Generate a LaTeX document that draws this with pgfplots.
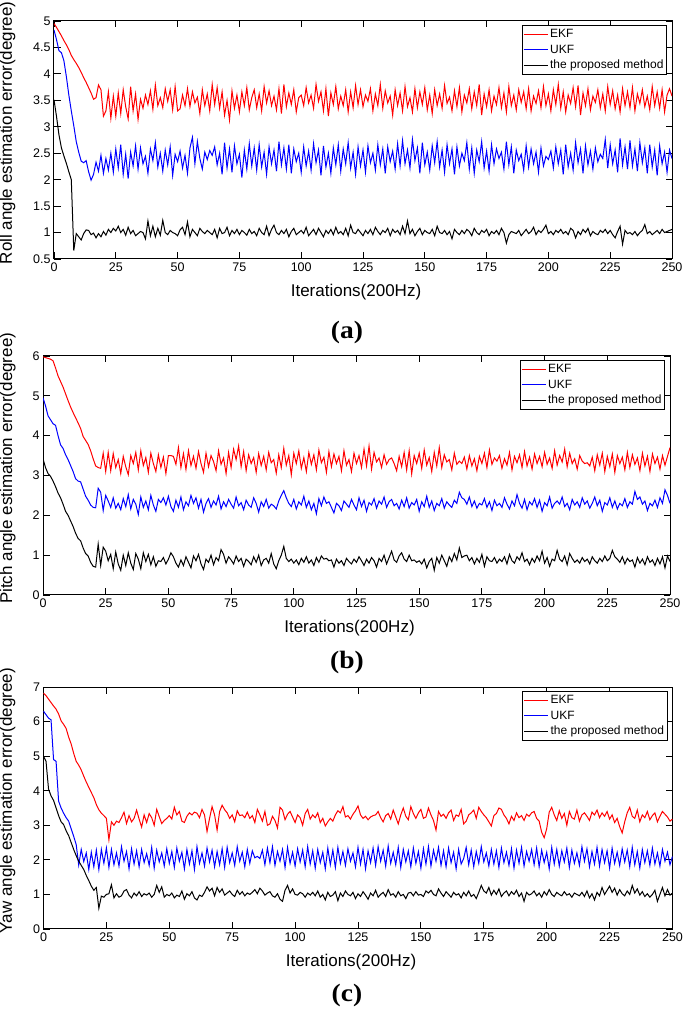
\documentclass[border=0pt]{standalone}
\usepackage{fontspec}
\setmainfont{Liberation Sans}
\newfontfamily\capfont{Liberation Serif}[FakeStretch=1.1]
\usepackage{pgfplots}
\pgfplotsset{compat=1.18}

\pgfplotsset{
  errax/.style={
    scale only axis, anchor=south west,
    xmin=0, xmax=250, xtick={0,25,...,250},
    tick align=inside, major tick length=6.5pt,
    axis line style={line width=1pt},
    every tick/.style={black, line width=0.9pt},
    ticklabel style={font=\fontsize{12.5}{14}\selectfont},
    /pgf/number format/assume math mode=true,
    xlabel={Iterations(200Hz)},
    label style={font=\fontsize{17}{20}\selectfont},
    xlabel style={at={(axis description cs:0.5,0)}, anchor=center, yshift=-33pt, xshift=-7pt},
    legend style={at={(rel axis cs:1,1)}, anchor=north east, xshift=-5pt, yshift=-4pt,
      font=\fontsize{12}{13}\selectfont, draw=black, line width=1pt,
      inner xsep=1pt, inner ysep=2pt, row sep=1.5pt, cells={anchor=west}},
    legend image code/.code={\draw[#1] (0pt,0pt) -- (24pt,0pt);},
  },
  ekf/.style={red, line width=1pt},
  ukf/.style={blue, line width=1pt},
  prop/.style={black, line width=1pt},
  table/y1/.style={x expr=\coordindex, y index=0, header=false, row sep=\\},
}

\begin{document}
\begin{tikzpicture}
\path[use as bounding box] (0pt,0pt) rectangle (685pt,1012pt);

% (a) roll
\begin{axis}[errax, at={(54pt,753pt)}, width=618pt, height=238pt,
  ymin=0.5, ymax=5, ytick={0.5,1,1.5,2,2.5,3,3.5,4,4.5,5},
  ylabel={Roll angle estimation error(degree)},
  ylabel style={at={(axis description cs:-0.0566,0.53)}, anchor=south}]
\addplot[ekf] table[y1] {
4.95\\4.88\\4.80\\4.72\\4.63\\4.55\\4.46\\4.35\\4.27\\4.20\\
4.12\\4.03\\3.93\\3.84\\3.74\\3.64\\3.52\\3.55\\3.79\\3.70\\
3.20\\3.30\\3.66\\3.16\\
3.58\\3.20\\3.64\\3.25\\3.70\\3.38\\3.15\\3.76\\3.30\\3.62\\
3.14\\3.52\\3.35\\3.60\\3.42\\3.68\\3.33\\3.79\\3.40\\3.55\\
3.36\\3.72\\3.48\\3.70\\3.32\\3.76\\3.30\\3.34\\3.60\\3.40\\
3.72\\3.38\\3.66\\3.45\\3.56\\3.25\\3.70\\3.40\\3.62\\3.30\\
3.80\\3.42\\3.74\\3.35\\3.66\\3.22\\3.50\\3.13\\3.68\\3.35\\
3.60\\3.28\\3.66\\3.40\\3.74\\3.32\\3.55\\3.70\\3.36\\3.62\\
3.30\\3.76\\3.45\\3.68\\3.40\\3.58\\3.32\\3.72\\3.25\\3.80\\
3.38\\3.64\\3.42\\3.70\\3.28\\3.55\\3.60\\3.40\\3.74\\3.45\\
3.60\\3.35\\3.80\\3.48\\3.66\\3.30\\3.72\\3.20\\3.64\\3.42\\
3.76\\3.34\\3.58\\3.40\\3.70\\3.28\\3.66\\3.36\\3.78\\3.42\\
3.70\\3.38\\3.60\\3.48\\3.72\\3.30\\3.62\\3.40\\3.80\\3.35\\
3.68\\3.45\\3.58\\3.22\\3.70\\3.40\\3.64\\3.30\\3.76\\3.38\\
3.55\\3.28\\3.72\\3.36\\3.66\\3.42\\3.74\\3.32\\3.60\\3.25\\
3.70\\3.40\\3.62\\3.35\\3.78\\3.44\\3.56\\3.30\\3.68\\3.38\\
3.74\\3.28\\3.60\\3.45\\3.72\\3.34\\3.66\\3.40\\3.80\\3.22\\
3.62\\3.38\\3.70\\3.30\\3.58\\3.42\\3.74\\3.36\\3.64\\3.28\\
3.76\\3.40\\3.60\\3.32\\3.70\\3.46\\3.66\\3.34\\3.72\\3.30\\
3.58\\3.44\\3.68\\3.36\\3.76\\3.40\\3.62\\3.30\\3.70\\3.42\\
3.80\\3.35\\3.66\\3.28\\3.60\\3.44\\3.74\\3.38\\3.78\\3.22\\
3.64\\3.40\\3.72\\3.32\\3.58\\3.46\\3.70\\3.36\\3.62\\3.30\\
3.76\\3.42\\3.68\\3.34\\3.60\\3.28\\3.72\\3.40\\3.66\\3.36\\
3.74\\3.30\\3.62\\3.44\\3.70\\3.38\\3.58\\3.32\\3.76\\3.40\\
3.66\\3.35\\3.70\\3.28\\3.60\\3.72\\3.58\\
};
\addplot[ukf] table[y1] {
4.83\\4.65\\4.44\\4.40\\4.25\\3.95\\3.60\\3.30\\3.02\\2.72\\
2.52\\2.35\\2.32\\2.36\\2.15\\1.99\\2.10\\2.33\\2.16\\2.46\\
2.12\\2.40\\2.18\\2.50\\
2.14\\2.58\\2.22\\2.66\\2.10\\2.48\\2.02\\2.52\\2.26\\2.64\\
2.20\\2.60\\2.30\\2.44\\2.12\\2.58\\2.36\\2.70\\2.24\\2.50\\
2.16\\2.56\\2.28\\2.62\\2.08\\2.48\\2.34\\2.54\\2.22\\2.46\\
2.12\\2.60\\2.80\\2.30\\2.72\\2.40\\2.20\\2.52\\2.38\\2.55\\
2.46\\2.62\\2.28\\2.50\\2.10\\2.70\\2.22\\2.58\\2.14\\2.64\\
2.30\\2.48\\2.04\\2.56\\2.20\\2.68\\2.26\\2.60\\2.18\\2.66\\
2.24\\2.52\\2.10\\2.62\\2.30\\2.56\\2.16\\2.72\\2.28\\2.60\\
2.20\\2.66\\2.12\\2.58\\2.34\\2.50\\2.14\\2.62\\2.26\\2.54\\
2.18\\2.68\\2.32\\2.56\\2.08\\2.64\\2.24\\2.50\\2.12\\2.60\\
2.28\\2.66\\2.16\\2.58\\2.30\\2.70\\2.22\\2.52\\2.10\\2.62\\
2.26\\2.56\\2.14\\2.64\\2.32\\2.50\\2.18\\2.66\\2.28\\2.58\\
2.12\\2.62\\2.34\\2.54\\2.20\\2.68\\2.26\\2.74\\2.30\\2.56\\
2.22\\2.76\\2.36\\2.60\\2.12\\2.70\\2.28\\2.52\\2.18\\2.64\\
2.32\\2.72\\2.24\\2.56\\2.14\\2.66\\2.30\\2.58\\2.10\\2.62\\
2.26\\2.50\\2.36\\2.70\\2.20\\2.60\\2.12\\2.56\\2.34\\2.72\\
2.22\\2.54\\2.16\\2.66\\2.30\\2.58\\2.40\\2.52\\2.20\\2.72\\
2.28\\2.62\\2.12\\2.56\\2.36\\2.48\\2.18\\2.64\\2.24\\2.58\\
2.30\\2.52\\2.14\\2.60\\2.26\\2.44\\2.38\\2.54\\2.22\\2.62\\
2.30\\2.56\\2.10\\2.66\\2.24\\2.50\\2.18\\2.70\\2.32\\2.58\\
2.12\\2.64\\2.28\\2.54\\2.20\\2.60\\2.34\\2.48\\2.40\\2.76\\
2.22\\2.66\\2.30\\2.56\\2.14\\2.78\\2.28\\2.62\\2.20\\2.74\\
2.26\\2.58\\2.16\\2.70\\2.32\\2.60\\2.12\\2.66\\2.24\\2.56\\
2.08\\2.64\\2.30\\2.52\\2.14\\2.56\\2.40\\
};
\addplot[prop] table[y1] {
3.51\\3.20\\2.85\\2.60\\2.45\\2.31\\2.15\\2.00\\0.66\\0.98\\
0.92\\0.86\\0.98\\1.05\\1.04\\0.96\\0.99\\0.90\\0.98\\0.92\\
1.02\\0.95\\1.06\\1.00\\
1.08\\1.03\\1.12\\1.00\\1.06\\0.95\\1.10\\0.98\\1.04\\0.94\\
0.98\\1.02\\1.00\\0.88\\1.22\\0.94\\1.12\\0.92\\1.08\\0.95\\
1.23\\1.00\\0.96\\1.04\\1.00\\0.98\\0.94\\1.05\\1.10\\0.96\\
1.20\\0.92\\1.06\\1.00\\0.94\\1.08\\1.02\\0.98\\1.04\\1.00\\
0.96\\1.06\\0.90\\1.08\\0.98\\1.00\\1.10\\0.94\\1.04\\0.98\\
1.06\\0.96\\1.04\\1.00\\0.95\\1.06\\0.98\\1.02\\0.94\\1.08\\
1.00\\0.96\\1.12\\0.94\\1.06\\1.14\\1.00\\0.96\\1.04\\0.98\\
1.06\\0.92\\1.02\\1.08\\0.96\\1.00\\1.04\\0.98\\1.10\\0.94\\
1.00\\1.06\\0.96\\1.08\\1.00\\0.92\\1.04\\0.98\\1.06\\0.96\\
1.10\\0.98\\1.02\\0.96\\1.08\\0.94\\1.14\\1.00\\0.98\\1.06\\
1.00\\0.94\\1.04\\0.98\\1.06\\0.96\\1.10\\1.02\\0.96\\1.04\\
1.00\\1.08\\0.94\\1.06\\1.00\\1.04\\0.96\\1.12\\0.98\\1.22\\
0.98\\1.06\\0.94\\1.02\\1.08\\0.96\\1.04\\1.00\\0.98\\1.06\\
0.94\\1.12\\1.00\\0.98\\1.04\\0.96\\1.02\\0.88\\1.06\\1.00\\
0.96\\1.04\\0.98\\1.06\\1.02\\0.94\\1.08\\1.00\\0.96\\1.04\\
1.00\\1.06\\0.94\\1.02\\0.98\\1.04\\0.96\\1.08\\1.00\\0.80\\
0.96\\1.02\\1.00\\0.98\\1.04\\0.94\\1.00\\1.06\\0.98\\1.02\\
1.10\\0.96\\1.04\\1.00\\1.06\\1.14\\0.98\\1.02\\0.96\\1.04\\
1.00\\1.06\\0.98\\1.02\\0.96\\1.08\\1.04\\0.90\\1.02\\0.96\\
1.06\\1.00\\1.08\\0.94\\1.02\\0.98\\0.96\\1.04\\1.00\\1.06\\
0.98\\1.04\\0.96\\0.90\\1.02\\1.12\\0.78\\1.04\\0.98\\1.00\\
0.96\\1.02\\0.94\\1.00\\1.04\\1.15\\0.98\\1.02\\0.96\\1.00\\
1.04\\0.98\\1.06\\1.00\\1.02\\1.04\\1.06\\
};
\legend{EKF,UKF,the proposed method}
\end{axis}
\node[font=\capfont\bfseries\fontsize{25}{28}\selectfont] at (347pt,680pt) {(a)};

% (b) pitch
\begin{axis}[errax, at={(43pt,417pt)}, width=627pt, height=239pt,
  ymin=0, ymax=6, ytick={0,1,2,3,4,5,6},
  ylabel={Pitch angle estimation error(degree)},
  ylabel style={at={(axis description cs:-0.038,0.53)}, anchor=south}]
\addplot[ekf] table[y1] {
5.98\\5.96\\5.94\\5.92\\5.88\\5.70\\5.50\\5.36\\5.22\\5.05\\
4.88\\4.72\\4.58\\4.45\\4.32\\4.18\\3.98\\3.88\\3.78\\3.62\\
3.42\\3.24\\3.20\\3.18\\3.56\\
3.10\\3.58\\3.12\\3.55\\3.20\\3.40\\3.05\\3.48\\3.22\\3.02\\
3.50\\3.30\\3.58\\3.14\\3.62\\3.25\\3.45\\3.08\\3.56\\3.30\\
3.10\\3.52\\3.20\\3.46\\3.05\\3.50\\3.50\\3.48\\3.28\\3.70\\
3.20\\3.55\\3.15\\3.62\\3.25\\3.48\\3.18\\3.60\\3.30\\3.08\\
3.56\\3.22\\3.50\\3.35\\3.12\\3.62\\3.28\\3.44\\3.05\\3.58\\
3.20\\3.66\\3.40\\3.74\\3.22\\3.60\\3.12\\3.52\\3.30\\3.45\\
3.08\\3.55\\3.25\\3.48\\3.14\\3.58\\3.32\\3.40\\3.06\\3.52\\
3.20\\3.68\\3.26\\3.50\\3.02\\3.56\\3.30\\3.62\\3.18\\3.45\\
3.10\\3.58\\3.28\\3.52\\3.14\\3.64\\3.32\\3.46\\3.08\\3.60\\
3.22\\3.54\\3.30\\3.48\\3.12\\3.62\\3.26\\3.40\\3.10\\3.56\\
3.30\\3.50\\3.20\\3.66\\3.24\\3.74\\3.16\\3.58\\3.34\\3.44\\
3.20\\3.52\\3.28\\3.40\\3.44\\3.30\\3.12\\3.48\\3.22\\3.58\\
3.14\\3.62\\3.04\\3.50\\3.30\\3.56\\3.18\\3.64\\3.26\\3.45\\
3.10\\3.58\\3.24\\3.70\\3.20\\3.52\\3.34\\3.40\\3.14\\3.56\\
3.28\\3.36\\3.30\\3.46\\3.16\\3.50\\3.24\\3.42\\3.12\\3.48\\
3.30\\3.56\\3.20\\3.64\\3.28\\3.44\\3.36\\3.50\\3.18\\3.42\\
3.26\\3.58\\3.14\\3.48\\3.32\\3.52\\3.20\\3.60\\3.24\\3.46\\
3.16\\3.54\\3.30\\3.48\\3.22\\3.58\\3.28\\3.44\\3.18\\3.62\\
3.26\\3.50\\3.34\\3.66\\3.22\\3.56\\3.30\\3.42\\3.16\\3.50\\
3.36\\3.30\\3.32\\3.24\\3.46\\3.12\\3.52\\3.26\\3.56\\3.10\\
3.48\\3.22\\3.54\\3.08\\3.50\\3.30\\3.46\\3.14\\3.58\\3.20\\
3.52\\3.28\\3.44\\3.12\\3.56\\3.24\\3.48\\3.10\\3.54\\3.30\\
3.46\\3.16\\3.50\\3.26\\3.48\\3.70\\
};
\addplot[ukf] table[y1] {
4.95\\4.75\\4.50\\4.40\\4.30\\4.26\\4.00\\3.77\\3.68\\3.52\\
3.40\\3.25\\3.10\\2.92\\2.86\\2.84\\2.66\\2.48\\2.38\\2.26\\
2.20\\2.19\\2.68\\2.58\\2.12\\
2.50\\2.36\\2.20\\2.44\\2.18\\2.30\\2.14\\2.42\\2.22\\2.52\\
2.16\\2.40\\2.28\\2.02\\2.46\\2.20\\2.36\\2.14\\2.50\\2.26\\
2.10\\2.40\\2.32\\2.44\\2.26\\2.48\\2.22\\2.10\\2.38\\2.20\\
2.46\\2.14\\2.34\\2.24\\2.50\\2.30\\2.44\\2.18\\2.40\\2.08\\
2.30\\2.42\\2.20\\2.36\\2.26\\2.48\\2.16\\2.34\\2.22\\2.40\\
2.28\\2.18\\2.46\\2.24\\2.32\\2.14\\2.38\\2.26\\2.20\\2.44\\
2.30\\2.08\\2.34\\2.22\\2.40\\2.18\\2.28\\2.24\\2.16\\2.36\\
2.50\\2.62\\2.44\\2.30\\2.22\\2.40\\2.16\\2.34\\2.26\\2.48\\
2.20\\2.36\\2.14\\2.30\\2.04\\2.42\\2.24\\2.46\\2.30\\2.34\\
2.20\\2.06\\2.30\\2.24\\2.12\\2.36\\2.28\\2.20\\2.40\\2.26\\
2.14\\2.44\\2.22\\2.38\\2.10\\2.32\\2.26\\2.42\\2.18\\2.36\\
2.28\\2.46\\2.20\\2.34\\2.40\\2.24\\2.30\\2.16\\2.38\\2.22\\
2.44\\2.18\\2.32\\2.26\\2.40\\2.10\\2.34\\2.22\\2.48\\2.20\\
2.36\\2.12\\2.30\\2.24\\2.42\\2.18\\2.34\\2.26\\2.20\\2.38\\
2.30\\2.58\\2.44\\2.40\\2.28\\2.46\\2.22\\2.36\\2.18\\2.30\\
2.26\\2.42\\2.20\\2.34\\2.12\\2.38\\2.24\\2.30\\2.20\\2.44\\
2.28\\2.16\\2.36\\2.24\\2.52\\2.30\\2.18\\2.40\\2.14\\2.34\\
2.26\\2.42\\2.20\\2.38\\2.10\\2.32\\2.24\\2.46\\2.18\\2.30\\
2.36\\2.28\\2.46\\2.22\\2.30\\2.14\\2.40\\2.26\\2.34\\2.20\\
2.44\\2.28\\2.36\\2.18\\2.30\\2.46\\2.24\\2.38\\2.10\\2.32\\
2.26\\2.44\\2.20\\2.36\\2.16\\2.30\\2.24\\2.42\\2.20\\2.34\\
2.28\\2.60\\2.40\\2.46\\2.28\\2.36\\2.12\\2.30\\2.24\\2.38\\
2.20\\2.44\\2.30\\2.64\\2.50\\2.30\\
};
\addplot[prop] table[y1] {
3.42\\3.20\\3.05\\2.98\\2.86\\2.72\\2.56\\2.44\\2.28\\2.10\\
2.00\\1.86\\1.72\\1.55\\1.42\\1.36\\1.18\\1.04\\0.98\\0.82\\
0.72\\0.70\\1.28\\0.74\\1.20\\
1.10\\0.86\\1.02\\0.66\\1.08\\0.78\\0.62\\1.00\\0.74\\1.06\\
0.80\\0.64\\1.04\\0.90\\0.66\\1.06\\0.84\\1.02\\0.76\\0.96\\
0.72\\0.86\\0.84\\0.94\\0.78\\0.90\\1.06\\0.96\\0.80\\0.70\\
0.88\\0.74\\0.96\\0.82\\0.68\\0.98\\0.86\\1.02\\0.78\\0.64\\
0.90\\0.82\\1.00\\0.76\\0.94\\0.86\\1.14\\1.02\\0.80\\0.96\\
0.88\\0.78\\0.98\\0.84\\0.92\\0.72\\0.90\\0.84\\0.76\\0.96\\
0.82\\1.00\\0.74\\0.88\\0.92\\0.80\\1.04\\0.78\\0.66\\0.86\\
1.00\\1.22\\0.92\\0.84\\0.90\\0.80\\0.88\\0.76\\0.92\\0.82\\
0.96\\0.80\\0.88\\0.74\\0.94\\0.82\\0.98\\0.90\\0.92\\0.86\\
0.88\\0.70\\0.90\\0.80\\0.86\\0.74\\0.92\\0.84\\0.78\\0.90\\
0.82\\0.96\\0.86\\0.74\\0.90\\0.80\\0.94\\0.86\\0.70\\0.92\\
0.84\\1.00\\0.78\\0.94\\1.10\\0.88\\0.82\\0.98\\1.06\\0.90\\
0.84\\1.00\\0.86\\0.88\\0.82\\0.86\\0.78\\0.90\\0.68\\0.84\\
0.92\\0.62\\0.94\\0.80\\1.00\\0.86\\0.72\\0.96\\0.84\\1.04\\
0.88\\1.18\\0.94\\0.98\\1.00\\0.86\\0.94\\0.78\\0.92\\0.82\\
1.02\\0.72\\0.96\\0.86\\0.84\\0.94\\0.80\\0.90\\0.84\\0.96\\
0.78\\1.02\\0.86\\0.80\\0.96\\0.88\\1.06\\0.84\\0.90\\0.76\\
0.92\\0.82\\0.98\\0.86\\1.10\\0.80\\0.94\\0.72\\0.90\\0.86\\
1.12\\0.90\\0.84\\0.98\\0.76\\1.04\\0.92\\0.82\\0.88\\0.80\\
0.94\\0.84\\0.90\\0.78\\0.96\\0.86\\0.80\\0.92\\0.84\\0.98\\
0.86\\0.92\\1.12\\0.96\\0.90\\0.82\\0.96\\0.78\\0.92\\0.84\\
0.88\\0.70\\0.94\\0.80\\0.90\\0.76\\0.96\\0.82\\0.88\\0.74\\
0.92\\0.78\\0.96\\0.68\\0.98\\0.84\\
};
\legend{EKF,UKF,the proposed method}
\end{axis}
\node[font=\capfont\bfseries\fontsize{25}{28}\selectfont] at (347pt,350pt) {(b)};

% (c) yaw
\begin{axis}[errax, at={(43.5pt,83pt)}, width=629pt, height=242pt,
  ymin=0, ymax=7, ytick={0,1,2,3,4,5,6,7},
  ylabel={Yaw angle estimation error(degree)},
  ylabel style={at={(axis description cs:-0.039,0.53)}, anchor=south}]
\addplot[ekf] table[y1] {
6.82\\6.75\\6.65\\6.55\\6.45\\6.36\\6.22\\6.02\\5.92\\5.80\\
5.55\\5.35\\5.08\\4.85\\4.74\\4.60\\4.42\\4.25\\4.10\\3.95\\
3.80\\3.60\\3.45\\3.35\\3.28\\3.20\\2.58\\3.10\\3.00\\
3.12\\3.08\\3.22\\3.38\\3.05\\3.28\\3.10\\3.20\\3.44\\3.18\\
2.95\\3.30\\3.08\\3.34\\3.22\\3.00\\3.46\\3.25\\3.05\\3.14\\
3.20\\3.28\\3.18\\3.52\\3.30\\3.40\\3.12\\3.08\\3.26\\3.36\\
3.30\\3.38\\3.35\\3.22\\3.46\\3.30\\2.82\\3.20\\3.54\\3.30\\
2.86\\3.40\\3.58\\3.45\\3.36\\3.20\\3.30\\3.10\\3.42\\3.28\\
3.30\\3.22\\3.38\\3.20\\3.28\\3.08\\3.46\\3.30\\3.12\\3.40\\
3.00\\3.04\\3.26\\3.14\\2.92\\3.52\\3.44\\3.16\\3.32\\3.40\\
3.24\\3.08\\3.30\\3.22\\3.00\\3.34\\3.46\\3.18\\3.30\\3.22\\
3.36\\3.08\\3.20\\2.98\\3.10\\3.20\\3.12\\3.30\\3.42\\3.36\\
3.54\\3.24\\3.28\\3.18\\3.32\\3.42\\3.56\\3.30\\3.20\\3.26\\
3.16\\3.24\\3.28\\3.30\\3.40\\3.22\\3.10\\3.28\\3.34\\3.18\\
3.44\\3.24\\3.04\\3.30\\3.50\\3.26\\3.16\\3.54\\3.34\\3.20\\
3.36\\3.46\\3.20\\3.24\\3.50\\3.30\\3.14\\2.86\\3.40\\3.26\\
3.32\\3.20\\3.36\\3.44\\3.14\\3.30\\3.26\\3.46\\3.04\\3.12\\
3.30\\3.36\\3.44\\3.20\\3.52\\3.40\\3.30\\3.22\\3.10\\2.98\\
3.28\\3.34\\3.50\\3.46\\3.30\\3.20\\3.04\\3.26\\3.14\\3.36\\
3.22\\3.28\\3.14\\3.32\\3.26\\3.36\\3.40\\3.20\\3.12\\2.80\\
2.64\\2.90\\3.38\\3.52\\3.30\\3.14\\3.42\\3.20\\3.34\\3.00\\
3.40\\3.22\\3.18\\3.44\\3.12\\3.30\\3.36\\3.26\\3.14\\3.38\\
3.30\\3.44\\3.22\\3.36\\3.26\\3.40\\3.18\\3.30\\3.08\\3.20\\
2.96\\2.78\\3.10\\3.36\\3.52\\3.26\\3.20\\3.44\\3.10\\3.30\\
3.22\\3.40\\3.16\\3.28\\3.36\\3.10\\3.26\\3.40\\3.32\\3.24\\
3.12\\3.18\\
};
\addplot[ukf] table[y1] {
6.30\\6.20\\6.10\\6.05\\4.90\\4.85\\3.70\\3.50\\3.35\\3.22\\
3.12\\2.90\\2.68\\2.44\\1.85\\2.30\\1.95\\2.20\\1.72\\
2.22\\1.80\\2.28\\1.72\\2.30\\1.90\\2.34\\1.78\\2.30\\1.86\\
2.20\\1.82\\2.38\\1.96\\2.24\\1.74\\2.32\\1.88\\2.26\\1.80\\
2.30\\1.92\\2.18\\1.84\\2.36\\1.76\\2.28\\1.94\\2.20\\1.82\\
2.32\\1.90\\2.24\\1.78\\2.34\\1.96\\2.22\\1.74\\2.30\\1.88\\
2.26\\1.72\\2.38\\1.90\\2.20\\1.82\\2.34\\1.94\\2.28\\1.80\\
2.24\\1.86\\2.32\\1.78\\2.36\\1.92\\2.20\\1.84\\2.38\\1.96\\
2.22\\1.80\\2.30\\1.90\\2.26\\2.06\\2.10\\2.04\\2.28\\1.86\\
2.34\\1.92\\2.38\\1.84\\2.24\\1.96\\2.30\\1.78\\2.36\\1.90\\
2.22\\1.82\\2.32\\1.94\\2.28\\1.80\\2.38\\1.88\\2.26\\1.76\\
2.30\\1.92\\2.22\\1.74\\2.34\\1.86\\2.28\\1.78\\2.36\\1.90\\
2.24\\1.84\\2.32\\1.96\\2.20\\1.80\\2.36\\1.88\\2.30\\1.74\\
2.26\\1.92\\2.34\\1.84\\2.38\\1.96\\2.28\\1.82\\2.40\\1.90\\
2.22\\1.86\\2.36\\1.78\\2.30\\1.94\\2.26\\1.80\\2.34\\1.90\\
2.24\\1.76\\2.32\\1.88\\2.38\\1.82\\2.28\\1.96\\2.36\\1.84\\
2.26\\1.80\\2.34\\1.92\\2.22\\1.74\\2.30\\1.88\\2.04\\2.36\\
1.86\\2.28\\1.80\\2.24\\1.90\\2.38\\1.94\\2.20\\1.82\\2.30\\
1.88\\2.26\\1.78\\2.34\\1.92\\2.22\\1.84\\2.32\\1.76\\2.28\\
1.90\\2.36\\1.82\\2.24\\1.96\\2.30\\1.86\\2.34\\1.80\\2.28\\
1.92\\2.22\\1.74\\2.36\\1.88\\2.30\\1.82\\2.26\\1.94\\2.34\\
1.78\\2.28\\1.90\\2.20\\1.84\\2.38\\1.96\\2.32\\1.80\\2.24\\
1.88\\2.36\\1.82\\2.30\\1.92\\2.26\\1.76\\2.34\\1.90\\2.22\\
1.84\\2.32\\1.94\\2.28\\1.80\\2.36\\1.86\\2.24\\1.76\\2.30\\
1.92\\2.26\\1.84\\2.34\\1.88\\2.20\\1.82\\2.30\\1.96\\2.22\\
1.86\\2.10\\
};
\addplot[prop] table[y1] {
5.00\\4.85\\4.05\\3.85\\3.72\\3.50\\3.28\\3.10\\3.02\\2.84\\
2.70\\2.50\\2.30\\2.12\\1.96\\1.84\\1.72\\1.55\\1.40\\1.24\\
1.12\\1.20\\0.60\\0.95\\0.92\\
1.00\\1.02\\1.28\\0.90\\1.02\\0.92\\0.96\\1.10\\1.14\\0.98\\
0.90\\1.04\\0.96\\1.08\\0.94\\1.02\\0.98\\1.04\\0.92\\1.00\\
1.26\\1.06\\1.22\\0.92\\1.00\\0.96\\1.04\\0.90\\0.98\\0.94\\
1.10\\0.86\\1.02\\0.96\\1.08\\0.90\\0.84\\0.98\\0.94\\1.06\\
1.22\\1.10\\1.18\\0.96\\1.20\\1.06\\1.16\\0.98\\1.04\\1.10\\
1.00\\0.94\\1.12\\1.00\\1.08\\0.96\\1.04\\1.00\\1.06\\1.14\\
1.02\\1.18\\1.10\\0.98\\1.04\\1.08\\0.96\\0.92\\1.02\\0.86\\
0.80\\1.12\\1.26\\1.04\\1.16\\1.00\\0.98\\1.06\\1.02\\0.92\\
1.04\\0.98\\1.06\\0.96\\1.10\\0.92\\1.00\\0.84\\1.06\\0.94\\
0.98\\1.08\\0.82\\1.04\\0.94\\1.10\\1.00\\0.96\\1.06\\0.88\\
1.02\\0.94\\1.08\\0.98\\0.86\\1.04\\0.96\\1.12\\0.92\\1.00\\
1.06\\0.94\\1.14\\0.98\\1.02\\0.92\\1.08\\0.96\\1.00\\0.88\\
1.04\\1.06\\0.96\\1.08\\0.98\\1.00\\0.94\\1.10\\1.04\\1.12\\
1.00\\0.96\\1.16\\1.04\\0.94\\1.08\\1.00\\0.92\\1.06\\0.98\\
1.02\\0.90\\1.06\\0.96\\1.10\\0.94\\1.00\\0.88\\1.06\\1.26\\
1.10\\1.04\\1.20\\0.98\\1.12\\1.00\\1.16\\0.94\\1.04\\1.10\\
0.96\\1.08\\1.00\\1.12\\0.94\\1.04\\0.80\\1.06\\0.98\\1.02\\
1.10\\0.96\\1.04\\0.92\\1.08\\0.98\\1.14\\1.00\\0.94\\1.06\\
1.00\\0.96\\1.08\\0.98\\1.02\\0.92\\1.04\\1.00\\0.96\\1.06\\
0.94\\1.10\\0.90\\1.02\\0.84\\1.06\\0.96\\1.20\\1.00\\1.12\\
1.24\\1.06\\1.18\\0.98\\1.14\\1.02\\0.96\\1.10\\1.00\\1.26\\
1.04\\1.16\\0.98\\1.08\\0.94\\1.02\\0.92\\1.00\\1.12\\0.80\\
1.00\\1.20\\0.96\\1.14\\0.98\\1.04\\
};
\legend{EKF,UKF,the proposed method}
\end{axis}
\node[font=\capfont\bfseries\fontsize{25}{28}\selectfont] at (347pt,17pt) {(c)};
\end{tikzpicture}
\end{document}
